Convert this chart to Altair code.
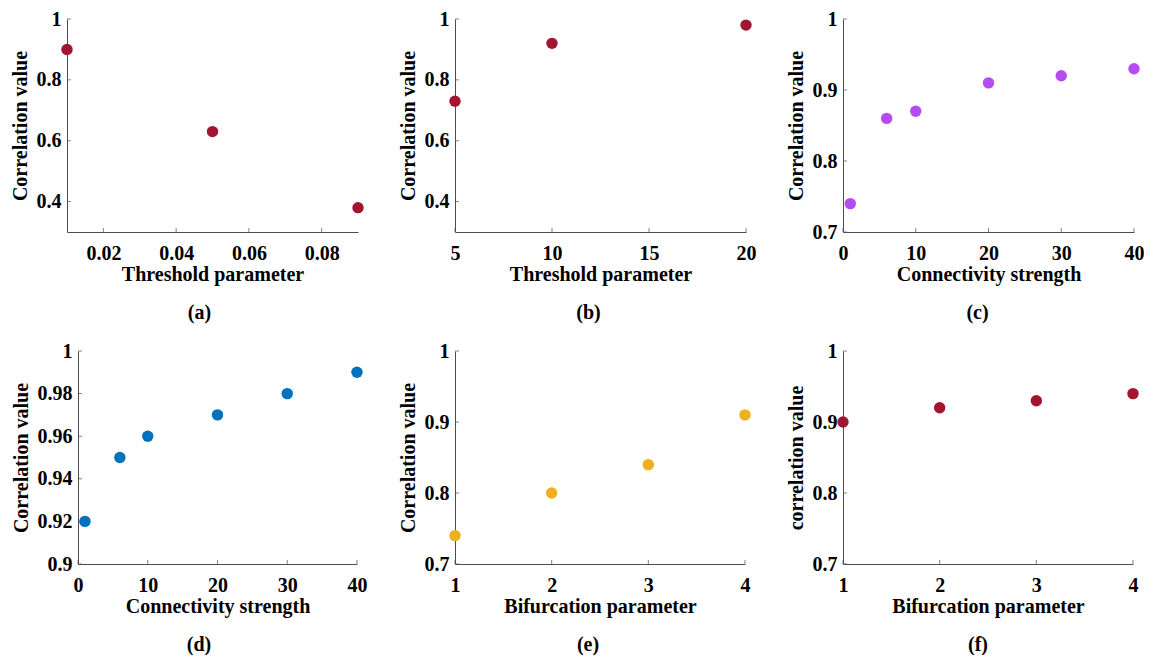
import altair as alt
import pandas as pd

# ---- data ----
a_x = [0.01, 0.05, 0.09]
a_y = [0.90, 0.63, 0.38]
b_x = [5, 10, 20]
b_y = [0.73, 0.92, 0.98]
c_x = [1, 6, 10, 20, 30, 40]
c_y = [0.74, 0.86, 0.87, 0.91, 0.92, 0.93]
d_x = [1, 6, 10, 20, 30, 40]
d_y = [0.92, 0.95, 0.96, 0.97, 0.98, 0.99]
e_x = [1, 2, 3, 4]
e_y = [0.74, 0.80, 0.84, 0.91]
f_x = [1, 2, 3, 4]
f_y = [0.90, 0.92, 0.93, 0.94]

x_ticks_a = [0.02, 0.04, 0.06, 0.08]
x_ticks_b = [5, 10, 15, 20]
x_ticks_c = [0, 10, 20, 30, 40]
x_ticks_e = [1, 2, 3, 4]
y_ticks_ab = [0.4, 0.6, 0.8, 1.0]
y_ticks_ce = [0.7, 0.8, 0.9, 1.0]
y_ticks_d = [0.9, 0.92, 0.94, 0.96, 0.98, 1.0]

FONT = "Liberation Serif"
AXIS_COLOR = "#4d4d4d"
W = 291
H = 213


def panel(xs, ys, color, xdom, ydom, xticks, yticks, xtitle, ytitle, label, dx,
          width=W, inset=0):
    df = pd.DataFrame({"x": xs, "y": ys})
    if inset:
        xscale = alt.Scale(domain=xdom, nice=False, zero=False, range=[inset, width])
    else:
        xscale = alt.Scale(domain=xdom, nice=False, zero=False)
    yscale = alt.Scale(domain=ydom, nice=False, zero=False)
    xaxis = alt.Axis(values=xticks, format="~g", title=xtitle, ticks=False, tickSize=0,
                     grid=False, labelPadding=11, titlePadding=1, labelFlush=False)
    yaxis = alt.Axis(values=yticks, format="~g", title=ytitle, ticks=False, tickSize=0,
                     grid=False, labelPadding=6, titlePadding=6, labelFlush=False,
                     offset=-inset)
    pts = alt.Chart(df).mark_circle(size=130, opacity=1, color=color).encode(
        x=alt.X("x:Q", scale=xscale, axis=xaxis),
        y=alt.Y("y:Q", scale=yscale, axis=yaxis),
    )
    xt = alt.Chart(pd.DataFrame({"t": xticks})).mark_tick(
        orient="vertical", size=4, thickness=1, yOffset=-2, color=AXIS_COLOR
    ).encode(
        x=alt.X("t:Q", scale=xscale),
        y=alt.Y(datum=ydom[0], type="quantitative", scale=yscale),
    )
    yt = alt.Chart(pd.DataFrame({"t": yticks})).mark_tick(
        orient="horizontal", size=4, thickness=1, xOffset=2, color=AXIS_COLOR
    ).encode(
        y=alt.Y("t:Q", scale=yscale),
        x=alt.X(datum=xdom[0], type="quantitative", scale=xscale),
    )
    return alt.layer(pts, xt, yt).properties(
        width=width, height=H,
        title=alt.TitleParams(text=label, orient="bottom", frame="group", anchor="middle",
                              dx=dx, offset=19, fontSize=20, font=FONT,
                              fontWeight="bold", color="black"),
    )


RED = "#A2142F"
PURPLE = "#B54CF2"
BLUE = "#0072BD"
YELLOW = "#EDB120"

pa = panel(a_x, a_y, RED, [0.01, 0.09], [0.3, 1.0], x_ticks_a, y_ticks_ab,
           "Threshold parameter", "Correlation value", "(a)", -13)
pb = panel(b_x, b_y, RED, [5, 20], [0.3, 1.0], x_ticks_b, y_ticks_ab,
           "Threshold parameter", "Correlation value", "(b)", -12)
pc = panel(c_x, c_y, PURPLE, [0, 40], [0.7, 1.0], x_ticks_c, y_ticks_ce,
           "Connectivity strength", "Correlation value", "(c)", -11)
pd_ = panel(d_x, d_y, BLUE, [0, 40], [0.9, 1.0], x_ticks_c, y_ticks_d,
            "Connectivity strength", "Correlation value", "(d)", -13, width=290, inset=11)
pe = panel(e_x, e_y, YELLOW, [1, 4], [0.7, 1.0], x_ticks_e, y_ticks_ce,
           "Bifurcation parameter", "Correlation value", "(e)", -12, width=290)
pf = panel(f_x, f_y, RED, [1, 4], [0.7, 1.0], x_ticks_e, y_ticks_ce,
           "Bifurcation parameter", "correlation value", "(f)", -10, width=290)

row1 = alt.hconcat(pa, pb, pc, spacing=97, bounds="flush")
row2 = alt.hconcat(pd_, pe, pf, spacing=98, bounds="flush")

chart = alt.vconcat(row1, row2, spacing=18).properties(
    padding={"left": 2, "top": 1, "right": 0, "bottom": 0}
).configure_view(stroke=None).configure_axis(
    labelFont=FONT, titleFont=FONT, labelFontSize=20, titleFontSize=20,
    labelFontWeight="bold", titleFontWeight="bold", labelColor="black",
    titleColor="black", domainColor=AXIS_COLOR, domainWidth=1,
).configure_title(font=FONT)

chart.save("out.html", embed_options={"renderer": "svg", "actions": False})
